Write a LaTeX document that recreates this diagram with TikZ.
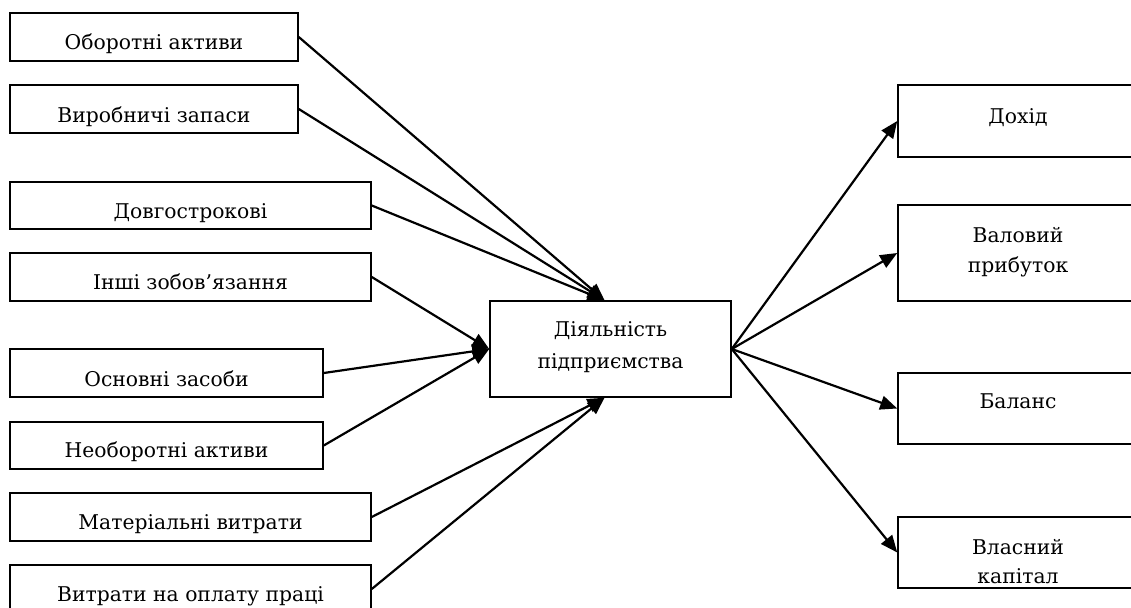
\documentclass[tikz,border=0pt]{standalone}
\usepackage{fontspec}
\setmainfont{DejaVu Serif}
\usetikzlibrary{arrows.meta,calc}
\begin{document}
\begin{tikzpicture}[x=1pt,y=-1pt,
  box/.style={draw,line width=1.5pt,inner sep=0pt},
  lbl/.style={anchor=base,inner sep=0pt,font=\fontsize{20.3}{25}\selectfont},
  conn/.style={line width=2.2pt,-{Triangle[length=17pt,width=14pt]}}]
\clip (0,0) rectangle (1131,607);
\fill[white] (0,0) rectangle (1131,607);
% left boxes
\node[box,minimum width=288pt,minimum height=48pt] (b1) at (154,37) {};
\node[box,minimum width=288pt,minimum height=48pt] (b2) at (154,109) {};
\node[box,minimum width=361pt,minimum height=47pt] (b3) at (190.5,205.5) {};
\node[box,minimum width=361pt,minimum height=48pt] (b4) at (190.5,277) {};
\node[box,minimum width=313pt,minimum height=48pt] (b5) at (166.5,373) {};
\node[box,minimum width=313pt,minimum height=47pt] (b6) at (166.5,445.5) {};
\node[box,minimum width=361pt,minimum height=48pt] (b7) at (190.5,517) {};
\node[box,minimum width=361pt,minimum height=48pt] (b8) at (190.5,589) {};
% centre box
\node[box,minimum width=241pt,minimum height=96pt] (c) at (610.5,349) {};
% right boxes
\node[box,minimum width=240pt,minimum height=72pt] (r1) at (1018,121) {};
\node[box,minimum width=240pt,minimum height=96pt] (r2) at (1018,253) {};
\node[box,minimum width=240pt,minimum height=71pt] (r3) at (1018,408.5) {};
\node[box,minimum width=240pt,minimum height=71pt] (r4) at (1018,552.5) {};
% texts
\node[lbl] (t1) at (154,50) {Оборотні активи};
\node[lbl] (t2) at (154,122) {Виробничі запаси};
\node[lbl] (t3) at (190.5,218) {Довгострокові};
\node[lbl] (t4) at (190.5,289) {Інші зобов’язання};
\node[lbl] (t5) at (166.5,386) {Основні засоби};
\node[lbl] (t6) at (166.5,457) {Необоротні активи};
\node[lbl] (t7) at (190.5,529) {Матеріальні витрати};
\node[lbl] (t8) at (190.5,601) {Витрати на оплату праці};
\node[lbl] (tc1) at (610.5,336) {Діяльність};
\node[lbl] (tc2) at (610.5,368) {підприємства};
\node[lbl] (tr1) at (1018,123) {Дохід};
\node[lbl] (tr2a) at (1018,242) {Валовий};
\node[lbl] (tr2b) at (1018,272) {прибуток};
\node[lbl] (tr3) at (1018,408) {Баланс};
\node[lbl] (tr4a) at (1018,554) {Власний};
\node[lbl] (tr4b) at (1018,583) {капітал};
% connector ends
\coordinate (ctop) at ($(c.north)+(-6,0)$);
\coordinate (cbot) at ($(c.south)+(-6,0)$);
% connectors
\draw[conn] (b1.east) -- (ctop);
\draw[conn] (b2.east) -- (ctop);
\draw[conn] (b3.east) -- (ctop);
\draw[conn] (b4.east) -- (c.west);
\draw[conn] (b5.east) -- (c.west);
\draw[conn] (b6.east) -- (c.west);
\draw[conn] (b7.east) -- (cbot);
\draw[conn] (b8.east) -- (cbot);
\draw[conn] (c.east) -- (r1.west);
\draw[conn] (c.east) -- (r2.west);
\draw[conn] (c.east) -- (r3.west);
\draw[conn] (c.east) -- (r4.west);
\end{tikzpicture}
\end{document}
